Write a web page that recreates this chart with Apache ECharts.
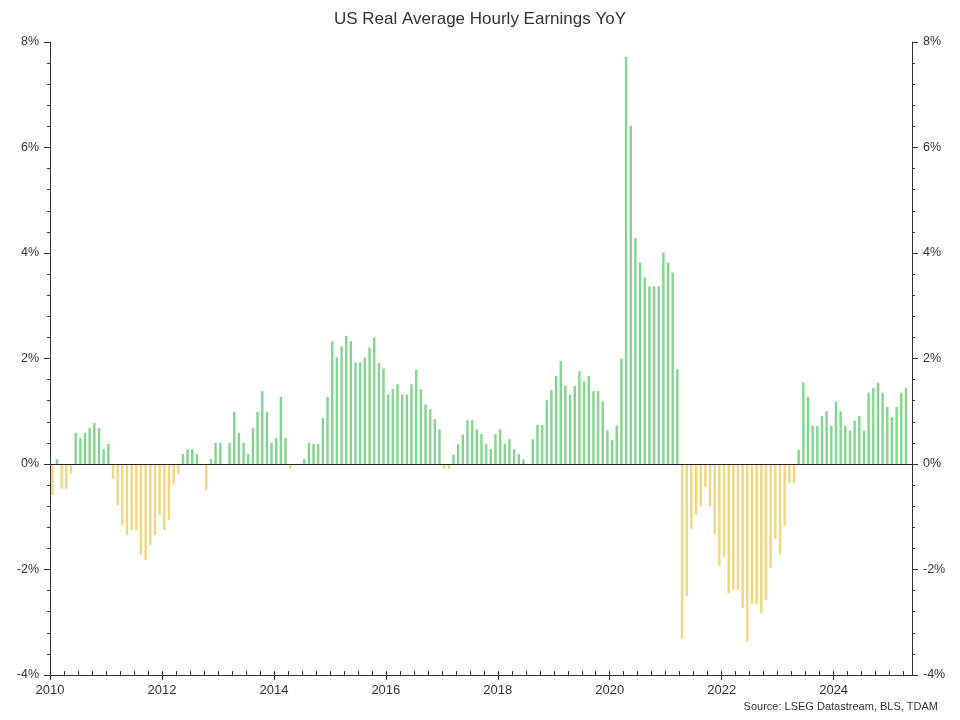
<!DOCTYPE html>
<html>
<head>
<meta charset="utf-8">
<title>US Real Average Hourly Earnings YoY</title>
<script src="https://cdn.jsdelivr.net/npm/echarts@6/dist/echarts.min.js"></script>
<style>
  html, body { margin: 0; padding: 0; background: #fff; }
  #chart { width: 960px; height: 720px; }
</style>
</head>
<body>
<div id="chart"></div>
<script>
// first month of the series (Jan 2010), one value per month
var startYear = 2010;

// real average hourly earnings, % YoY, read month by month
var yoy2010 = [-0.59, 0.09, -0.47, -0.47, -0.18, 0.59, 0.49, 0.59, 0.68, 0.78, 0.68, 0.28];
var yoy2011 = [0.38, -0.28, -0.78, -1.16, -1.35, -1.25, -1.25, -1.73, -1.82, -1.54, -1.35, -0.97];
var yoy2012 = [-1.25, -1.06, -0.40, -0.19, 0.19, 0.28, 0.28, 0.19, 0.0, -0.49, 0.09, 0.40];
var yoy2013 = [0.40, 0.0, 0.40, 0.99, 0.59, 0.40, 0.19, 0.68, 0.99, 1.38, 0.99, 0.40];
var yoy2014 = [0.49, 1.27, 0.49, -0.09, 0.0, 0.0, 0.09, 0.40, 0.38, 0.38, 0.87, 1.27];
var yoy2015 = [2.33, 2.02, 2.23, 2.43, 2.33, 1.93, 1.93, 2.02, 2.21, 2.40, 1.91, 1.81];
var yoy2016 = [1.32, 1.42, 1.51, 1.32, 1.32, 1.51, 1.79, 1.42, 1.13, 1.04, 0.85, 0.66];
var yoy2017 = [-0.09, -0.09, 0.18, 0.37, 0.56, 0.83, 0.83, 0.66, 0.57, 0.38, 0.28, 0.57];
var yoy2018 = [0.66, 0.38, 0.47, 0.28, 0.19, 0.09, 0.0, 0.47, 0.74, 0.74, 1.21, 1.40];
var yoy2019 = [1.67, 1.95, 1.48, 1.31, 1.48, 1.76, 1.57, 1.67, 1.38, 1.38, 1.19, 0.64];
var yoy2020 = [0.45, 0.73, 2.00, 7.72, 6.41, 4.28, 3.82, 3.54, 3.37, 3.37, 3.37, 4.01];
var yoy2021 = [3.82, 3.63, 1.80, -3.32, -2.50, -1.23, -0.97, -0.80, -0.44, -0.80, -1.33, -1.93];
var yoy2022 = [-1.76, -2.45, -2.39, -2.39, -2.73, -3.37, -2.65, -2.65, -2.82, -2.58, -1.97, -1.42];
var yoy2023 = [-1.71, -1.18, -0.36, -0.36, 0.27, 1.55, 1.27, 0.72, 0.72, 0.91, 1.00, 0.72];
var yoy2024 = [1.18, 1.00, 0.72, 0.63, 0.82, 0.91, 0.63, 1.35, 1.44, 1.54, 1.35, 1.08];
var yoy2025 = [0.89, 1.08, 1.35, 1.44];

var yTicks = [-4, -2, 0, 2, 4, 6, 8];

var values = [].concat(yoy2010, yoy2011, yoy2012, yoy2013, yoy2014, yoy2015, yoy2016,
  yoy2017, yoy2018, yoy2019, yoy2020, yoy2021, yoy2022, yoy2023, yoy2024, yoy2025);

var GREEN = '#7fd68c';
var YELLOW = '#f3d67b';
var FONT = '"Liberation Sans", Arial, sans-serif';

// each bar sits in the middle of its month on a decimal-year axis
var bars = [];
for (var i = 0; i < values.length; i++) {
  bars.push({
    value: [startYear + (i + 0.5) / 12, values[i]],
    itemStyle: { color: values[i] >= 0 ? GREEN : YELLOW }
  });
}

var myChart = echarts.init(document.getElementById('chart'));

var yAxisBase = {
  type: 'value',
  min: yTicks[0],
  max: yTicks[yTicks.length - 1],
  interval: 2,
  splitLine: { show: false },
  axisLine: { show: true, lineStyle: { color: '#333', width: 1 } },
  axisTick: { show: true, length: 6, lineStyle: { color: '#333' } },
  minorTick: { show: true, splitNumber: 5, length: 3, lineStyle: { color: '#333' } },
  axisLabel: {
    formatter: '{value}%',
    color: '#333',
    fontFamily: FONT,
    fontSize: 12.5,
    margin: 11
  }
};

var option = {
  animation: false,
  backgroundColor: '#fff',
  title: [
    {
      text: 'US Real Average Hourly Earnings YoY',
      left: 'center',
      top: 6,
      textStyle: { color: '#333', fontFamily: FONT, fontSize: 17, fontWeight: 'normal' }
    },
    {
      text: 'Source: LSEG Datastream, BLS, TDAM',
      right: 17,
      bottom: 3,
      textStyle: { color: '#333', fontFamily: FONT, fontSize: 11, fontWeight: 'normal' }
    }
  ],
  grid: { left: 50, right: 48, top: 42, bottom: 45 },
  xAxis: [
    {
      type: 'value',
      min: 2010,
      max: 2025.4,
      interval: 2,
      splitLine: { show: false },
      axisLine: { show: true, onZero: false, lineStyle: { color: '#333', width: 1 } },
      axisTick: { show: true, length: 5, lineStyle: { color: '#333' } },
      axisLabel: {
        color: '#333',
        fontFamily: FONT,
        fontSize: 13,
        margin: 9,
        showMaxLabel: false,
        formatter: function (v) {
          return String(Math.round(v));
        }
      }
    },
    {
      // quarterly ticks pointing into the plot
      type: 'value',
      position: 'bottom',
      min: 2010,
      max: 2025.4,
      interval: 0.25,
      splitLine: { show: false },
      axisLine: { show: false, onZero: false },
      axisTick: { show: true, inside: true, length: 4, lineStyle: { color: '#333' } },
      axisLabel: { show: false }
    }
  ],
  yAxis: [
    Object.assign({}, yAxisBase, { position: 'left' }),
    Object.assign({}, yAxisBase, { position: 'right' })
  ],
  series: [
    {
      type: 'bar',
      xAxisIndex: 0,
      yAxisIndex: 0,
      barWidth: 2.4,
      data: bars,
      markLine: {
        silent: true,
        symbol: 'none',
        label: { show: false },
        lineStyle: { color: '#222', width: 1, type: 'solid' },
        data: [{ yAxis: 0 }]
      }
    }
  ]
};

myChart.setOption(option);
</script>
</body>
</html>
